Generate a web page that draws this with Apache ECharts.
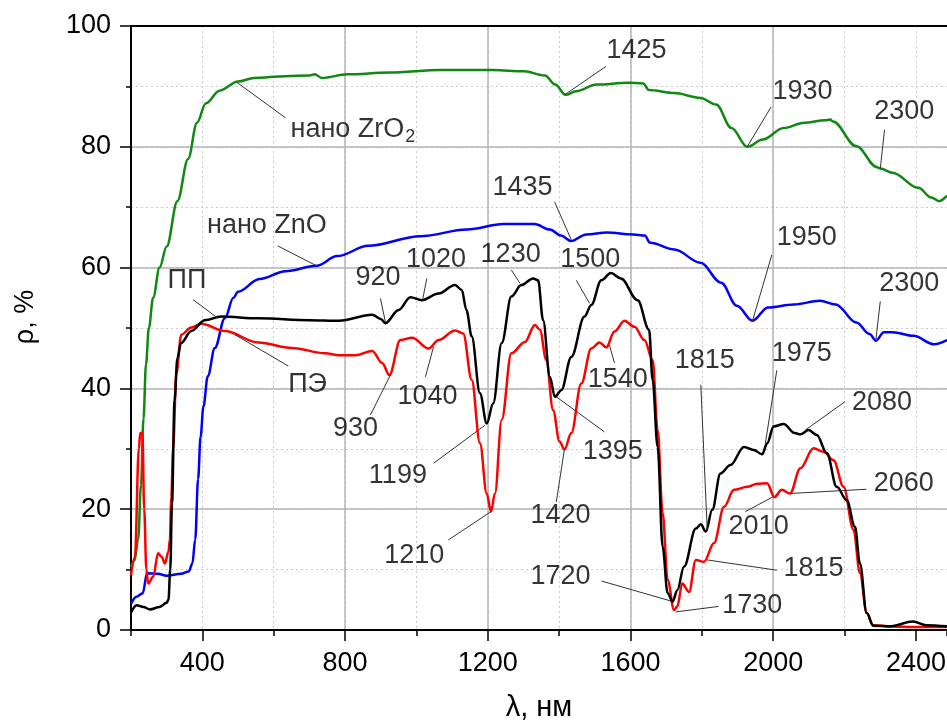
<!DOCTYPE html>
<html><head><meta charset="utf-8">
<script src="https://cdn.jsdelivr.net/npm/echarts@6/dist/echarts.min.js"></script>
<style>html,body{margin:0;padding:0;background:#fff}#c{width:947px;height:724px}</style>
</head><body><div id="c"></div>
<script>
// wavelength (nm), reflectance (%)
const zro2 = [[200,10.5],[210,11.5],[220,15],[228,24],[235,35],[242,44],[250,50],[262,55],[280,60],[300,63.5],[330,71],[360,78],[385,84],[410,87.2],[448,89.3],[500,90.8],[545,91.4],[633,91.7],[700,91.8],[715,92.0],[735,91.4],[807,92.0],[924,92.3],[1069,92.7],[1214,92.7],[1302,92.5],[1360,91.8],[1389,90.3],[1418,88.6],[1447,89.2],[1505,90.3],[1593,90.6],[1636,90.5],[1651,89.4],[1723,88.9],[1796,88.1],[1840,87.0],[1883,83.1],[1927,80.0],[1971,81.2],[2029,83.1],[2087,84.0],[2145,84.4],[2160,84.5],[2167,84.2],[2233,80.1],[2291,76.6],[2300,76.4],[2334,75.7],[2407,73.2],[2443,71.6],[2465,71.0],[2487,71.9]];
const zno = [[200,4.3],[215,5.5],[233,6.1],[245,9.4],[275,9.3],[300,9.0],[340,9.3],[362,9.7],[372,11],[380,15],[388,25],[395,32],[403,37],[415,42],[435,46.7],[463,51.6],[487,55.0],[500,56.0],[560,58.1],[633,59.4],[720,60.3],[778,61.9],[865,63.6],[1011,65.2],[1142,66.3],[1244,67.2],[1331,67.2],[1374,66.3],[1405,65.3],[1433,64.4],[1476,65.5],[1534,65.8],[1607,65.5],[1640,65.3],[1655,64.1],[1723,63.0],[1796,60.8],[1854,57.5],[1898,53.7],[1942,51.2],[1985,53.4],[2058,53.9],[2131,54.5],[2175,53.9],[2233,50.9],[2270,49.0],[2288,47.9],[2310,49.3],[2334,49.3],[2393,48.7],[2451,47.3],[2487,48.0]];
const pp = [[200,2.9],[216,4.1],[235,3.8],[253,3.4],[280,3.8],[300,4.5],[305,5],[310,10],[315,21],[322,38],[330,45],[340,47.5],[369,49.5],[407,51.3],[453,51.9],[557,51.6],[700,51.3],[783,51.2],[876,52.2],[900,51.5],[913,50.8],[950,53],[983,55.1],[1015,54.6],[1062,55.7],[1108,57.1],[1127,56.3],[1140,53],[1155,48.6],[1178,39.2],[1197,34.2],[1215,37.5],[1239,47.5],[1266,55.2],[1294,57.1],[1327,58.2],[1341,57.9],[1355,51.3],[1374,41.9],[1388,38.6],[1406,39.7],[1434,45.2],[1471,51.9],[1490,53.8],[1518,57.9],[1545,59.1],[1573,58.2],[1620,54.6],[1652,49.7],[1662,41.4],[1676,30.3],[1690,13.8],[1704,6.1],[1718,4.7],[1731,6.6],[1750,10.5],[1783,16.8],[1797,17.5],[1811,16.3],[1829,19.9],[1852,25.9],[1880,27.3],[1918,30.3],[1945,29.8],[1969,29.1],[1983,30.9],[2001,33.7],[2029,34.1],[2060,32.6],[2076,32.4],[2099,33.1],[2122,32.3],[2150,29.3],[2178,23.7],[2206,21.5],[2229,17.1],[2243,11],[2262,2.8],[2280,0.7],[2326,0.6],[2392,1.4],[2429,0.8],[2487,0.6]];
const pe = [[200,9.1],[211,12.1],[222,30],[226,32.6],[232,32.6],[237,20],[243,10],[248,7.7],[262,8.8],[276,12.7],[286,12.1],[295,11],[305,13],[309,15],[313,22],[318,30],[327,42.5],[341,48.9],[369,50.1],[397,50.7],[463,49.5],[557,47.6],[651,46.7],[745,45.8],[783,45.5],[829,45.5],[876,46.2],[904,44.2],[924,42.2],[955,48],[988,48.4],[1034,46.6],[1062,48],[1108,49.6],[1131,49.1],[1155,41.4],[1178,30.9],[1197,22.6],[1209,19.6],[1220,22.6],[1239,34.8],[1266,45.8],[1304,47.7],[1332,50.5],[1346,49.7],[1364,44.7],[1383,36.4],[1401,31.2],[1415,29.9],[1434,32.6],[1462,40.8],[1490,46.6],[1513,47.6],[1532,46.8],[1555,49.4],[1583,51.2],[1611,50.2],[1639,48],[1662,44.7],[1676,33.1],[1690,19.4],[1704,8.3],[1722,3.3],[1731,3.9],[1745,7.7],[1764,6.3],[1783,11.6],[1806,11.3],[1834,14.4],[1862,20.4],[1890,23.2],[1927,23.7],[1955,24.2],[1983,24.3],[2003,22],[2024,23.2],[2047,22.6],[2076,26.8],[2113,30.1],[2141,29.5],[2169,28.1],[2197,23.7],[2225,16.6],[2243,9.4],[2262,2.8],[2280,0.8],[2330,0.6],[2400,0.5],[2487,0.5]];

const xMajorTicks = [400,800,1200,1600,2000,2400];
const yMajorTicks = [0,20,40,60,80,100];

// annotations: text, label centre, leader line start, leader line end (data units)
const annoText = ['нано ZrO2','нано ZnO','ПП','ПЭ','920','1020','1230','1500','1435','1425','1930','2300','1950','2300','930','1040','1199','1395','1540','1420','1210','1815','1975','2080','2060','2010','1815','1730','1720'];
const annoLabel = [[822,82.8],[581,66.9],[357,57.8],[695,40.6],[892,58.3],[1055,61.4],[1264,62.1],[1487,61.4],[1297,73.3],[1617,96],[2082,89.2],[2367,85.9],[2094,64.9],[2381,57.4],[829,33.4],[1031,38.7],[948,25.5],[1550,29.5],[1564,41.4],[1404,19],[994,12.3],[1808,44.6],[2080,45.7],[2305,37.7],[2366,24.2],[1959,17.2],[2113,10.1],[1941,4],[1404,8.8]];
const annoFrom = [[496,90.7],[611,63.6],[374,54.7],[491,48.9],[899,54.9],[1029,58.2],[1266,59.6],[1448,57.9],[1387,70.9],[1531,93.3],[1994,86.6],[2312,82.8],[1996,62.1],[2300,54.4],[871,35.6],[1025,41.9],[1048,27.6],[1527,32.8],[1555,44.2],[1392,21.2],[1089,14.9],[1797,40.6],[2010,43],[2201,37.8],[2261,23.3],[1922,19.6],[2010,9.9],[1847,3.9],[1519,8.1]];
const annoTo = [[633,84.8],[720,60.3],[444,51.6],[641,43.7],[913,51],[1017,54.6],[1290,57.4],[1485,54.1],[1434,64.6],[1415,88.6],[1927,80],[2300,76.4],[1941,51],[2287,47.7],[927,42.2],[1048,46.9],[1192,33.9],[1392,38.6],[1541,47.2],[1415,30],[1209,19.6],[1815,16.6],[1978,30.9],[2090,33.1],[2047,22.6],[2001,22.1],[1815,11.6],[1727,3],[1713,4.8]];

const FF = 'Liberation Sans, Arial, sans-serif';
const FS = 27;
const TXT = '#000';
const chart = echarts.init(document.getElementById('c'), null, {renderer:'canvas'});

function curve(name, data, color){
  return {name, type:'line', xAxisIndex:0, yAxisIndex:0, data, showSymbol:false, symbol:'none',
    smooth:0.35, smoothMonotone:'x', lineStyle:{color, width:2.5}, z:3, silent:true};
}
const tickStyle = {color:'#000', width:1.5};
chart.setOption({
  animation:false,
  backgroundColor:'#fff',
  textStyle:{fontFamily:FF},
  grid:{left:131, right:0, top:26, bottom:94, containLabel:false, outerBoundsMode:'none'},
  xAxis:[
    {type:'value', min:200, max:2487, interval:200, position:'bottom',
     axisLine:{show:true, onZero:false, lineStyle:{color:'#000', width:2}},
     axisTick:{show:true, length:6, lineStyle:tickStyle},
     axisLabel:{formatter:v => (v % 400 === 0 ? String(v) : ''), fontSize:FS, color:TXT, margin:20, fontFamily:FF},
     splitLine:{show:true, showMinLine:false, showMaxLine:false, lineStyle:{color:'#cccccc', width:1, type:[2,3]}},
     name:'λ, нм', nameLocation:'middle', nameGap:63, nameTextStyle:{fontSize:29, color:TXT, fontFamily:FF}},
    {type:'value', min:200, max:2487, interval:200, position:'bottom',
     axisLine:{show:false, onZero:false},
     axisTick:{show:true, length:11, customValues:xMajorTicks, lineStyle:tickStyle},
     axisLabel:{show:false},
     splitLine:{show:true, showMinLine:false, showMaxLine:false, lineStyle:{color:'#b4b4b4', width:1.5}}},
    {type:'value', min:200, max:2487, position:'top',
     axisLine:{show:true, onZero:false, lineStyle:{color:'#000', width:2}},
     axisTick:{show:false}, axisLabel:{show:false}, splitLine:{show:false}}
  ],
  yAxis:[
    {type:'value', min:0, max:100, interval:10, position:'left',
     axisLine:{show:true, onZero:false, lineStyle:{color:'#000', width:2}},
     axisTick:{show:true, length:5, lineStyle:tickStyle},
     axisLabel:{formatter:v => (v % 20 === 0 ? String(v) : ''), fontSize:FS, color:TXT, margin:20, fontFamily:FF},
     splitLine:{show:true, showMinLine:false, showMaxLine:false, lineStyle:{color:'#cccccc', width:1, type:[2,3]}},
     name:'ρ, %', nameLocation:'middle', nameGap:92, nameTextStyle:{fontSize:FS, color:TXT, fontFamily:FF, padding:[0,0,0,22]}},
    {type:'value', min:0, max:100, interval:10, position:'left',
     axisLine:{show:false, onZero:false},
     axisTick:{show:true, length:11, customValues:yMajorTicks, lineStyle:tickStyle},
     axisLabel:{show:false},
     splitLine:{show:true, showMinLine:false, showMaxLine:false, lineStyle:{color:'#b4b4b4', width:1.5}}}
  ],
  series:[
    curve('нано ZrO2', zro2, '#118811'),
    curve('нано ZnO', zno, '#0000ff'),
    curve('ПЭ', pe, '#ff0000'),
    curve('ПП', pp, '#000000'),
    {type:'line', data:[], xAxisIndex:0, yAxisIndex:0, silent:true, z:4,
     markLine:{silent:true, symbol:['none','none'], animation:false, label:{show:false},
       lineStyle:{color:'#333', width:1, type:'solid'},
       emphasis:{disabled:true},
       data: annoFrom.map((p,i) => [{coord:p}, {coord:annoTo[i]}])}},
    {type:'scatter', xAxisIndex:0, yAxisIndex:0, silent:true, z:5, symbolSize:1,
     itemStyle:{color:'transparent'},
     data: annoLabel.map((p,i) => ({value:p, name:annoText[i]})),
     label:{show:true, position:'inside', align:'center', verticalAlign:'middle', fontSize:FS, color:TXT, fontFamily:FF,
       formatter: p => p.name === 'нано ZrO2' ? '{m|нано ZrO}{s|2}' : p.name,
       rich:{m:{fontSize:FS, color:TXT, fontFamily:FF}, s:{fontSize:18, color:TXT, fontFamily:FF, padding:[14,0,0,1]}}}}
  ]
});
</script></body></html>
